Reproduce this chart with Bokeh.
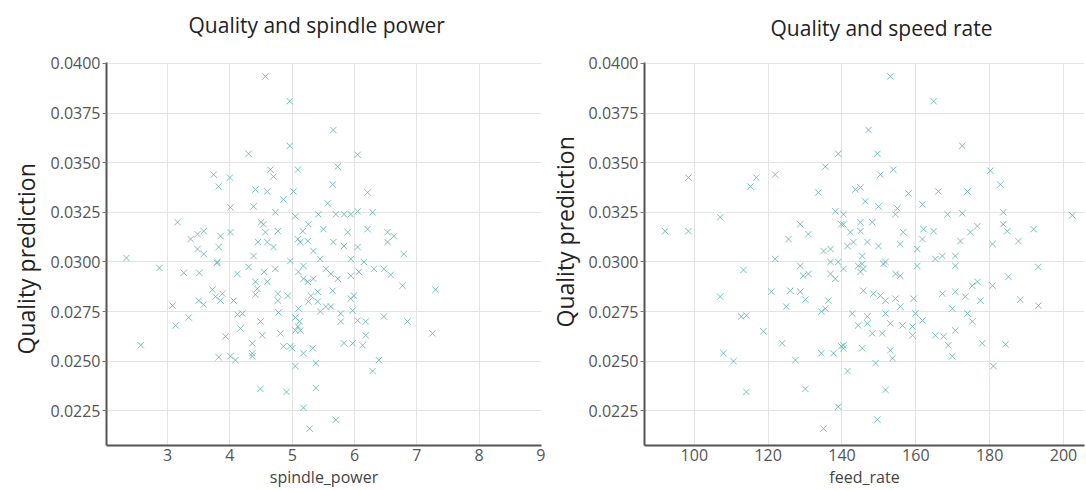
from bokeh.plotting import figure
from bokeh.layouts import row
from bokeh.models import Range1d, FixedTicker, PrintfTickFormatter, Title
from bokeh.embed import file_html
from bokeh.resources import INLINE

# ---------------- data ----------------
spindle_power = [4.57, 4.96, 4.30, 4.96, 3.74, 4.00, 3.82, 4.65, 4.70, 5.09, 4.41, 4.60, 5.02, 4.86,
                 4.01, 3.16, 4.38, 4.73, 5.05, 3.37, 3.58, 3.48, 3.85, 4.01, 4.54, 4.77, 4.57, 3.48,
                 3.58, 3.82, 4.60, 4.70, 5.09, 4.38, 3.80, 4.97, 2.34, 5.66, 6.05, 5.73, 5.65, 6.21,
                 5.57, 5.42, 5.70, 5.83, 5.94, 6.05, 6.29, 5.26, 5.50, 5.89, 6.21, 6.53, 6.63, 6.53,
                 5.17, 5.13, 5.25, 5.66, 6.05, 6.79, 5.34, 5.83, 4.73, 5.45, 5.94, 6.15, 2.87, 3.26,
                 3.51, 3.79, 4.12, 4.30, 4.41, 4.44, 3.72, 3.77, 3.88, 3.85, 4.06, 3.50, 3.58, 3.08,
                 4.41, 4.77, 4.93, 4.77, 4.12, 4.20, 3.13, 3.34, 4.17, 4.49, 4.52, 4.78, 4.81, 5.09,
                 5.05, 3.93, 4.36, 4.86, 5.00, 2.57, 3.82, 4.01, 4.09, 4.36, 4.36, 5.05, 4.49, 4.91,
                 5.18, 5.54, 5.62, 5.18, 5.34, 5.73, 5.94, 6.07, 6.31, 6.47, 6.58, 6.77, 7.30, 5.30,
                 5.41, 5.65, 5.94, 5.99, 5.26, 5.41, 5.54, 5.62, 5.10, 5.45, 5.78, 5.97, 6.47, 6.85,
                 5.78, 6.05, 6.18, 5.13, 7.25, 6.18, 4.97, 5.18, 5.33, 5.83, 5.97, 6.13, 5.38, 6.39,
                 6.29, 5.38, 5.18, 5.70, 5.28, 5.05, 5.12, 4.55, 4.60, 4.45, 4.50, 5.10, 5.25]
quality_sp = [0.03935, 0.0381, 0.03545, 0.03585, 0.0344, 0.03425, 0.0338, 0.03465, 0.0343, 0.03465,
              0.03365, 0.03355, 0.03355, 0.03315, 0.03275, 0.0320, 0.0328, 0.0325, 0.0323, 0.03115,
              0.03155, 0.0314, 0.0313, 0.0315, 0.0319, 0.03155, 0.0315, 0.03065, 0.0304, 0.03075,
              0.0310, 0.03075, 0.03115, 0.0303, 0.0300, 0.03005, 0.0302, 0.03665, 0.0354, 0.0348,
              0.0339, 0.0335, 0.03295, 0.0324, 0.0324, 0.0324, 0.0324, 0.03255, 0.0325, 0.0319,
              0.03165, 0.0315, 0.03165, 0.0315, 0.0313, 0.0310, 0.03155, 0.0310, 0.03105, 0.0310,
              0.03075, 0.0304, 0.03055, 0.0308, 0.02965, 0.03015, 0.03015, 0.0300, 0.0297, 0.02945,
              0.02945, 0.02995, 0.0294, 0.02975, 0.0290, 0.02865, 0.0286, 0.02825, 0.0284, 0.02805,
              0.02805, 0.02805, 0.02785, 0.0278, 0.02835, 0.0284, 0.0283, 0.02805, 0.02735, 0.0274,
              0.0268, 0.0272, 0.02665, 0.0270, 0.0263, 0.02745, 0.0264, 0.02675, 0.02655, 0.02625,
              0.0259, 0.02575, 0.02565, 0.0258, 0.0252, 0.02525, 0.02505, 0.02525, 0.0254, 0.02475,
              0.0236, 0.02345, 0.0298, 0.02965, 0.0294, 0.02915, 0.02915, 0.02915, 0.0293, 0.0295,
              0.02965, 0.02965, 0.02935, 0.0288, 0.0286, 0.0283, 0.0285, 0.02855, 0.02815, 0.0283,
              0.0280, 0.0280, 0.02775, 0.02775, 0.02765, 0.0275, 0.0274, 0.02755, 0.02725, 0.0270,
              0.0270, 0.02705, 0.0270, 0.02655, 0.0264, 0.0263, 0.02575, 0.0254, 0.02565, 0.0259,
              0.0259, 0.0258, 0.0249, 0.02505, 0.0245, 0.02365, 0.02265, 0.02205, 0.0216, 0.0272,
              0.0270, 0.0295, 0.0290, 0.0310, 0.0320, 0.0295, 0.0290]

feed_rate = [92.1, 98.4, 98.4, 107.0, 115.2, 116.8, 121.9, 135.5, 139.0, 133.6, 138.2, 139.8, 128.7,
             130.9, 125.5, 135.0, 136.9, 121.9, 128.7, 139.0, 113.3, 153.1, 164.8, 147.2, 172.6, 149.6,
             150.4, 153.9, 180.2, 182.9, 143.6, 145.0, 158.0, 166.1, 174.0, 146.3, 149.9, 155.0, 161.8,
             140.4, 154.5, 168.6, 172.6, 183.7, 202.4, 140.4, 145.0, 148.2, 183.7, 176.7, 142.3, 145.0,
             156.6, 162.1, 164.8, 174.8, 184.8, 191.9, 187.8, 172.1, 161.8, 155.8, 160.4, 141.5, 143.1,
             146.9, 149.9, 136.9, 145.5, 145.5, 151.8, 165.3, 167.2, 170.7, 170.7, 180.8, 193.2, 107.0,
             112.7, 114.1, 118.7, 123.8, 120.9, 126.0, 124.9, 128.7, 130.1, 129.5, 130.9, 136.9, 138.2,
             136.3, 135.5, 134.4, 107.9, 110.6, 127.4, 134.4, 137.7, 139.8, 114.1, 130.1, 139.0, 135.0,
             140.4, 144.4, 145.0, 145.8, 151.2, 154.5, 155.8, 160.4, 185.1, 180.8, 175.3, 176.7, 167.2,
             170.7, 173.4, 177.5, 188.3, 193.2, 145.8, 148.5, 150.4, 151.8, 154.5, 159.4, 155.8, 142.8,
             146.9, 151.8, 159.9, 161.8, 144.4, 146.9, 153.1, 156.4, 159.1, 159.1, 169.9, 174.0, 175.3,
             170.7, 165.3, 167.5, 168.8, 169.9, 178.0, 184.3, 148.2, 150.9, 140.4, 140.4, 145.5, 153.1,
             153.7, 149.1, 181.0, 141.5, 151.8, 149.6]
quality_fr = [0.03155, 0.03155, 0.03425, 0.03225, 0.0338, 0.03425, 0.0344, 0.0348, 0.03545, 0.0335,
              0.03255, 0.0319, 0.0319, 0.0314, 0.03115, 0.03055, 0.03065, 0.03015, 0.0298, 0.0300,
              0.0296, 0.03935, 0.0381, 0.03665, 0.03585, 0.03545, 0.0344, 0.03465, 0.0346, 0.0339,
              0.03365, 0.03375, 0.03345, 0.03355, 0.03355, 0.03305, 0.0328, 0.0327, 0.0329, 0.0324,
              0.0324, 0.0324, 0.03245, 0.0325, 0.03235, 0.0319, 0.0320, 0.0320, 0.0319, 0.0318,
              0.0315, 0.03155, 0.0315, 0.03165, 0.03155, 0.0315, 0.03155, 0.03165, 0.03105, 0.03105,
              0.03115, 0.0309, 0.03065, 0.0308, 0.0310, 0.0310, 0.0308, 0.0300, 0.0303, 0.0299,
              0.0300, 0.03015, 0.0303, 0.0303, 0.0298, 0.0309, 0.02975, 0.02825, 0.02725, 0.0273,
              0.0265, 0.0259, 0.0285, 0.02855, 0.02775, 0.0285, 0.0281, 0.0293, 0.0294, 0.0294,
              0.02915, 0.02805, 0.02765, 0.0275, 0.0254, 0.0250, 0.02505, 0.0254, 0.0254, 0.02575,
              0.02345, 0.0236, 0.0227, 0.0216, 0.02965, 0.0298, 0.0295, 0.02965, 0.0299, 0.0294,
              0.0293, 0.0298, 0.02925, 0.0288, 0.0288, 0.0290, 0.0284, 0.0285, 0.02825, 0.02805,
              0.0281, 0.0278, 0.02855, 0.0284, 0.0283, 0.02805, 0.02815, 0.02815, 0.02775, 0.0274,
              0.02725, 0.0274, 0.0274, 0.02705, 0.0268, 0.0269, 0.0269, 0.0268, 0.02675, 0.0263,
              0.02765, 0.0274, 0.0270, 0.02655, 0.0263, 0.02625, 0.0258, 0.02525, 0.0259, 0.02585,
              0.0264, 0.0264, 0.0258, 0.02565, 0.02565, 0.02555, 0.02515, 0.0249, 0.02475, 0.0245,
              0.02355, 0.02205]

y_ticks = [0.0225, 0.0250, 0.0275, 0.0300, 0.0325, 0.0350, 0.0375, 0.0400]
sp_ticks = [3, 4, 5, 6, 7, 8, 9]
fr_ticks = [100, 120, 140, 160, 180, 200]
titles = ["Quality and spindle power", "Quality and speed rate"]
x_labels = ["spindle_power", "feed_rate"]
y_label = "Quality prediction"

FONT = "Open Sans"
MARK = "#58b3ab"


def make(xs, ys, xr, xticks, title, xlabel, width, bl, br, title_off, t_s1, t_s2,
         ylab_off, ylab_s, ylab_valign):
    p = figure(width=width, height=490, output_backend="svg", toolbar_location=None,
               x_range=Range1d(*xr), y_range=Range1d(0.02075, 0.04005),
               min_border_left=bl, min_border_right=br, min_border_top=62, min_border_bottom=42)
    p.outline_line_color = None
    p.background_fill_color = "white"
    p.border_fill_color = "white"

    p.xaxis.ticker = FixedTicker(ticks=xticks)
    p.yaxis.ticker = FixedTicker(ticks=y_ticks)
    p.yaxis.formatter = PrintfTickFormatter(format="%.4f")
    for ax in (p.xaxis, p.yaxis):
        ax.axis_line_color = "#555555"
        ax.axis_line_width = 2
        ax.major_tick_line_color = "#777777"
        ax.major_tick_in = 0
        ax.minor_tick_line_color = None
        ax.major_label_text_font = FONT
        ax.major_label_text_color = "#555555"
        ax.major_label_text_font_size = "16px"
    p.yaxis.major_tick_out = 4
    p.xaxis.major_tick_out = 0
    p.yaxis.major_label_standoff = 2
    p.xaxis.major_label_standoff = 3
    p.xaxis.axis_label = xlabel
    p.xaxis.axis_label_text_font = FONT
    p.xaxis.axis_label_text_font_style = "normal"
    p.xaxis.axis_label_text_font_size = "16px"
    p.xaxis.axis_label_text_color = "#444444"
    p.xaxis.axis_label_standoff = 2

    p.xgrid.ticker = FixedTicker(ticks=xticks)
    p.ygrid.ticker = FixedTicker(ticks=y_ticks)
    p.grid.grid_line_color = "#e4e4e4"
    p.grid.grid_line_width = 1

    p.scatter(xs, ys, marker="x", size=9, line_color=MARK, line_alpha=0.8, line_width=1)

    # spacer between the frame and the title (keeps the title near the top edge)
    p.add_layout(Title(text=" ", text_font_size="1px", standoff=t_s2), "above")
    p.add_layout(Title(text=title, align="left", offset=title_off, standoff=t_s1,
                       vertical_align="top",
                       text_font=FONT, text_font_size="21px", text_font_style="normal",
                       text_color="#222222"), "above")
    p.add_layout(Title(text=y_label, align="left", offset=ylab_off, standoff=ylab_s,
                       vertical_align=ylab_valign,
                       text_font=FONT, text_font_size="23px", text_font_style="normal",
                       text_color="#222222"), "left")
    return p


p1 = make(spindle_power, quality_sp, (2.02, 9.0), sp_ticks, titles[0], x_labels[0],
          545, 106, 4, 82, 19, 9, 91, 12, "bottom")
p2 = make(feed_rate, quality_fr, (86.5, 205.7), fr_ticks, titles[1], x_labels[1],
          541, 99, 2, 126, 25, 3, 118, 6, "top")

layout = row(p1, p2)
open("out.html", "w").write(file_html(layout, INLINE))
